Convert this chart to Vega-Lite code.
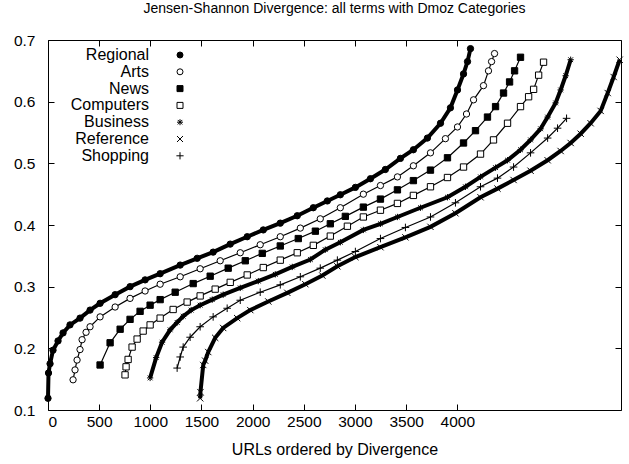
{
  "$schema": "https://vega.github.io/schema/vega-lite/v6.json",
  "width": 573,
  "height": 370,
  "autosize": "none",
  "padding": {"left": 48, "top": 40, "right": 8, "bottom": 54},
  "background": "white",
  "title": {"text": "Jensen-Shannon Divergence: all terms with Dmoz Categories", "font": "Liberation Sans", "fontSize": 14, "fontWeight": "normal", "color": "black", "offset": 17, "anchor": "middle"},
  "config": {
    "view": {"stroke": "black", "strokeWidth": 1},
    "axis": {"domain": false, "grid": false, "labelFont": "Liberation Sans", "labelFontSize": 15.5, "labelColor": "black", "tickColor": "black", "tickWidth": 1, "titleFont": "Liberation Sans", "titleFontWeight": "normal", "titleColor": "black", "titleFontSize": 16},
    "legend": {"orient": "none", "legendX": 124, "legendY": 7, "labelAlign": "right", "labelOffset": -39, "labelFont": "Liberation Sans", "labelFontSize": 16, "labelColor": "black", "symbolSize": 36, "rowPadding": 0.8, "padding": 0, "symbolStrokeWidth": 1}
  },
  "data": {"values": [
    {"c":"Regional","x":0,"y":0.119},{"c":"Regional","x":5,"y":0.16},{"c":"Regional","x":20,"y":0.175},{"c":"Regional","x":49,"y":0.197},{"c":"Regional","x":98,"y":0.212},{"c":"Regional","x":147,"y":0.225},{"c":"Regional","x":215,"y":0.238},{"c":"Regional","x":313,"y":0.249},{"c":"Regional","x":411,"y":0.262},{"c":"Regional","x":509,"y":0.273},{"c":"Regional","x":656,"y":0.287},{"c":"Regional","x":802,"y":0.3},{"c":"Regional","x":949,"y":0.311},{"c":"Regional","x":1096,"y":0.321},{"c":"Regional","x":1292,"y":0.335},{"c":"Regional","x":1458,"y":0.346},{"c":"Regional","x":1614,"y":0.356},{"c":"Regional","x":1781,"y":0.369},{"c":"Regional","x":1947,"y":0.381},{"c":"Regional","x":2104,"y":0.392},{"c":"Regional","x":2270,"y":0.403},{"c":"Regional","x":2436,"y":0.415},{"c":"Regional","x":2593,"y":0.428},{"c":"Regional","x":2730,"y":0.439},{"c":"Regional","x":2857,"y":0.449},{"c":"Regional","x":3004,"y":0.461},{"c":"Regional","x":3151,"y":0.475},{"c":"Regional","x":3297,"y":0.49},{"c":"Regional","x":3444,"y":0.508},{"c":"Regional","x":3571,"y":0.522},{"c":"Regional","x":3708,"y":0.541},{"c":"Regional","x":3836,"y":0.565},{"c":"Regional","x":3933,"y":0.59},{"c":"Regional","x":4002,"y":0.619},{"c":"Regional","x":4061,"y":0.645},{"c":"Regional","x":4100,"y":0.665},{"c":"Regional","x":4129,"y":0.686},
    {"c":"Arts","x":245,"y":0.149},{"c":"Arts","x":264,"y":0.165},{"c":"Arts","x":284,"y":0.181},{"c":"Arts","x":313,"y":0.198},{"c":"Arts","x":333,"y":0.214},{"c":"Arts","x":372,"y":0.226},{"c":"Arts","x":411,"y":0.235},{"c":"Arts","x":509,"y":0.251},{"c":"Arts","x":656,"y":0.267},{"c":"Arts","x":802,"y":0.281},{"c":"Arts","x":949,"y":0.293},{"c":"Arts","x":1096,"y":0.304},{"c":"Arts","x":1292,"y":0.316},{"c":"Arts","x":1487,"y":0.329},{"c":"Arts","x":1683,"y":0.342},{"c":"Arts","x":1879,"y":0.355},{"c":"Arts","x":2074,"y":0.368},{"c":"Arts","x":2270,"y":0.381},{"c":"Arts","x":2466,"y":0.395},{"c":"Arts","x":2661,"y":0.41},{"c":"Arts","x":2857,"y":0.428},{"c":"Arts","x":3082,"y":0.45},{"c":"Arts","x":3249,"y":0.464},{"c":"Arts","x":3415,"y":0.478},{"c":"Arts","x":3571,"y":0.496},{"c":"Arts","x":3738,"y":0.517},{"c":"Arts","x":3884,"y":0.54},{"c":"Arts","x":4002,"y":0.559},{"c":"Arts","x":4090,"y":0.58},{"c":"Arts","x":4159,"y":0.603},{"c":"Arts","x":4256,"y":0.626},{"c":"Arts","x":4305,"y":0.65},{"c":"Arts","x":4335,"y":0.665},{"c":"Arts","x":4364,"y":0.678},
    {"c":"News","x":509,"y":0.173},{"c":"News","x":607,"y":0.209},{"c":"News","x":705,"y":0.231},{"c":"News","x":802,"y":0.247},{"c":"News","x":900,"y":0.26},{"c":"News","x":998,"y":0.27},{"c":"News","x":1096,"y":0.279},{"c":"News","x":1243,"y":0.291},{"c":"News","x":1419,"y":0.305},{"c":"News","x":1585,"y":0.317},{"c":"News","x":1761,"y":0.33},{"c":"News","x":1928,"y":0.342},{"c":"News","x":2094,"y":0.354},{"c":"News","x":2270,"y":0.366},{"c":"News","x":2446,"y":0.378},{"c":"News","x":2613,"y":0.39},{"c":"News","x":2759,"y":0.402},{"c":"News","x":2906,"y":0.414},{"c":"News","x":3082,"y":0.429},{"c":"News","x":3249,"y":0.442},{"c":"News","x":3415,"y":0.457},{"c":"News","x":3571,"y":0.472},{"c":"News","x":3738,"y":0.489},{"c":"News","x":3904,"y":0.509},{"c":"News","x":4061,"y":0.533},{"c":"News","x":4178,"y":0.553},{"c":"News","x":4295,"y":0.575},{"c":"News","x":4374,"y":0.592},{"c":"News","x":4452,"y":0.614},{"c":"News","x":4511,"y":0.632},{"c":"News","x":4560,"y":0.65},{"c":"News","x":4618,"y":0.672},
    {"c":"Computers","x":753,"y":0.157},{"c":"Computers","x":763,"y":0.17},{"c":"Computers","x":783,"y":0.182},{"c":"Computers","x":822,"y":0.202},{"c":"Computers","x":871,"y":0.215},{"c":"Computers","x":930,"y":0.228},{"c":"Computers","x":998,"y":0.238},{"c":"Computers","x":1096,"y":0.249},{"c":"Computers","x":1223,"y":0.263},{"c":"Computers","x":1360,"y":0.275},{"c":"Computers","x":1487,"y":0.285},{"c":"Computers","x":1634,"y":0.296},{"c":"Computers","x":1781,"y":0.307},{"c":"Computers","x":1947,"y":0.319},{"c":"Computers","x":2104,"y":0.331},{"c":"Computers","x":2270,"y":0.343},{"c":"Computers","x":2436,"y":0.355},{"c":"Computers","x":2593,"y":0.367},{"c":"Computers","x":2759,"y":0.382},{"c":"Computers","x":2926,"y":0.398},{"c":"Computers","x":3082,"y":0.413},{"c":"Computers","x":3249,"y":0.424},{"c":"Computers","x":3415,"y":0.435},{"c":"Computers","x":3571,"y":0.448},{"c":"Computers","x":3738,"y":0.462},{"c":"Computers","x":3904,"y":0.477},{"c":"Computers","x":4061,"y":0.494},{"c":"Computers","x":4227,"y":0.515},{"c":"Computers","x":4354,"y":0.538},{"c":"Computers","x":4491,"y":0.565},{"c":"Computers","x":4618,"y":0.592},{"c":"Computers","x":4697,"y":0.608},{"c":"Computers","x":4746,"y":0.62},{"c":"Computers","x":4795,"y":0.643},{"c":"Computers","x":4843,"y":0.664},
    {"c":"Business","x":998,"y":0.152},{"c":"Business","x":1057,"y":0.185},{"c":"Business","x":1115,"y":0.21},{"c":"Business","x":1194,"y":0.23},{"c":"Business","x":1262,"y":0.242},{"c":"Business","x":1321,"y":0.252},{"c":"Business","x":1399,"y":0.262},{"c":"Business","x":1487,"y":0.27},{"c":"Business","x":1605,"y":0.279},{"c":"Business","x":1712,"y":0.287},{"c":"Business","x":1879,"y":0.298},{"c":"Business","x":2055,"y":0.309},{"c":"Business","x":2221,"y":0.32},{"c":"Business","x":2387,"y":0.332},{"c":"Business","x":2564,"y":0.344},{"c":"Business","x":2710,"y":0.36},{"c":"Business","x":2857,"y":0.372},{"c":"Business","x":3082,"y":0.392},{"c":"Business","x":3249,"y":0.402},{"c":"Business","x":3415,"y":0.413},{"c":"Business","x":3640,"y":0.428},{"c":"Business","x":3904,"y":0.445},{"c":"Business","x":4080,"y":0.462},{"c":"Business","x":4227,"y":0.478},{"c":"Business","x":4374,"y":0.493},{"c":"Business","x":4491,"y":0.505},{"c":"Business","x":4618,"y":0.522},{"c":"Business","x":4716,"y":0.538},{"c":"Business","x":4814,"y":0.556},{"c":"Business","x":4883,"y":0.575},{"c":"Business","x":4961,"y":0.598},{"c":"Business","x":5010,"y":0.619},{"c":"Business","x":5059,"y":0.642},{"c":"Business","x":5108,"y":0.668},
    {"c":"Reference","x":1487,"y":0.119},{"c":"Reference","x":1490,"y":0.129},{"c":"Reference","x":1517,"y":0.173},{"c":"Reference","x":1536,"y":0.18},{"c":"Reference","x":1566,"y":0.194},{"c":"Reference","x":1634,"y":0.217},{"c":"Reference","x":1712,"y":0.233},{"c":"Reference","x":1849,"y":0.249},{"c":"Reference","x":1977,"y":0.262},{"c":"Reference","x":2153,"y":0.276},{"c":"Reference","x":2339,"y":0.29},{"c":"Reference","x":2515,"y":0.304},{"c":"Reference","x":2681,"y":0.318},{"c":"Reference","x":2828,"y":0.333},{"c":"Reference","x":3004,"y":0.348},{"c":"Reference","x":3249,"y":0.364},{"c":"Reference","x":3493,"y":0.38},{"c":"Reference","x":3738,"y":0.397},{"c":"Reference","x":3982,"y":0.419},{"c":"Reference","x":4227,"y":0.445},{"c":"Reference","x":4393,"y":0.459},{"c":"Reference","x":4550,"y":0.473},{"c":"Reference","x":4716,"y":0.488},{"c":"Reference","x":4883,"y":0.505},{"c":"Reference","x":5010,"y":0.52},{"c":"Reference","x":5108,"y":0.533},{"c":"Reference","x":5206,"y":0.548},{"c":"Reference","x":5303,"y":0.565},{"c":"Reference","x":5401,"y":0.585},{"c":"Reference","x":5470,"y":0.614},{"c":"Reference","x":5528,"y":0.64},{"c":"Reference","x":5587,"y":0.668},
    {"c":"Shopping","x":1262,"y":0.168},{"c":"Shopping","x":1292,"y":0.186},{"c":"Shopping","x":1321,"y":0.202},{"c":"Shopping","x":1389,"y":0.218},{"c":"Shopping","x":1487,"y":0.235},{"c":"Shopping","x":1614,"y":0.251},{"c":"Shopping","x":1751,"y":0.265},{"c":"Shopping","x":1879,"y":0.278},{"c":"Shopping","x":2074,"y":0.291},{"c":"Shopping","x":2270,"y":0.303},{"c":"Shopping","x":2466,"y":0.316},{"c":"Shopping","x":2661,"y":0.33},{"c":"Shopping","x":2828,"y":0.343},{"c":"Shopping","x":3004,"y":0.357},{"c":"Shopping","x":3249,"y":0.378},{"c":"Shopping","x":3493,"y":0.396},{"c":"Shopping","x":3738,"y":0.413},{"c":"Shopping","x":3982,"y":0.436},{"c":"Shopping","x":4227,"y":0.462},{"c":"Shopping","x":4393,"y":0.476},{"c":"Shopping","x":4550,"y":0.494},{"c":"Shopping","x":4716,"y":0.517},{"c":"Shopping","x":4883,"y":0.541},{"c":"Shopping","x":4980,"y":0.557},{"c":"Shopping","x":5068,"y":0.573}
  ]},
  "layer": [
    {
      "transform": [{"filter": {"field": "c", "oneOf": ["Regional", "Business", "Reference"]}}],
      "mark": {"type": "line", "color": "black", "strokeWidth": 4},
      "encoding": {
        "x": {"field": "x", "type": "quantitative", "scale": {"domain": [0, 5600], "nice": false, "zero": false},
              "axis": {"orient": "bottom", "values": [0,500,1000,1500,2000,2500,3000,3500,4000], "format": "d", "tickSize": -6, "labelPadding": 10, "title": "URLs ordered by Divergence", "titlePadding": 12}},
        "y": {"field": "y", "type": "quantitative", "scale": {"domain": [0.1, 0.7], "nice": false, "zero": false},
              "axis": {"orient": "left", "values": [0.1,0.2,0.3,0.4,0.5,0.6,0.7], "format": ".1f", "tickSize": -6, "labelPadding": 19, "title": null}},
        "detail": {"field": "c", "type": "nominal"}
      }
    },
    {
      "transform": [{"filter": {"field": "c", "oneOf": ["Arts", "News", "Computers", "Shopping"]}}],
      "mark": {"type": "line", "color": "black", "strokeWidth": 1.2},
      "encoding": {
        "x": {"field": "x", "type": "quantitative", "axis": null},
        "y": {"field": "y", "type": "quantitative", "axis": null},
        "detail": {"field": "c", "type": "nominal"}
      }
    },
    {
      "mark": {"type": "point", "strokeWidth": 1, "size": 40, "opacity": 1},
      "encoding": {
        "x": {"field": "x", "type": "quantitative", "axis": {"orient": "top", "values": [0,500,1000,1500,2000,2500,3000,3500,4000], "tickSize": -6, "labels": false, "title": null}},
        "y": {"field": "y", "type": "quantitative", "axis": {"orient": "right", "values": [0.1,0.2,0.3,0.4,0.5,0.6,0.7], "tickSize": -6, "labels": false, "title": null}},
        "shape": {"field": "c", "type": "nominal",
          "scale": {"domain": ["Regional","Arts","News","Computers","Business","Reference","Shopping"],
                    "range": ["circle","circle","square","square","M-1,0L1,0M0,-1L0,1M-0.75,-0.75L0.75,0.75M-0.75,0.75L0.75,-0.75","M-1,-1L1,1M-1,1L1,-1","M-1.2,0L1.2,0M0,-1.2L0,1.2"]},
          "legend": {"title": null}
        },
        "fill": {"field": "c", "type": "nominal",
          "scale": {"domain": ["Regional","Arts","News","Computers","Business","Reference","Shopping"],
                    "range": ["black","white","black","white","transparent","transparent","transparent"]},
          "legend": {"title": null}
        },
        "stroke": {"field": "c", "type": "nominal",
          "scale": {"domain": ["Regional","Arts","News","Computers","Business","Reference","Shopping"],
                    "range": ["black","black","black","black","black","black","black"]},
          "legend": {"title": null}
        }
      }
    }
  ],
  "resolve": {"axis": {"x": "independent", "y": "independent"}}
}
